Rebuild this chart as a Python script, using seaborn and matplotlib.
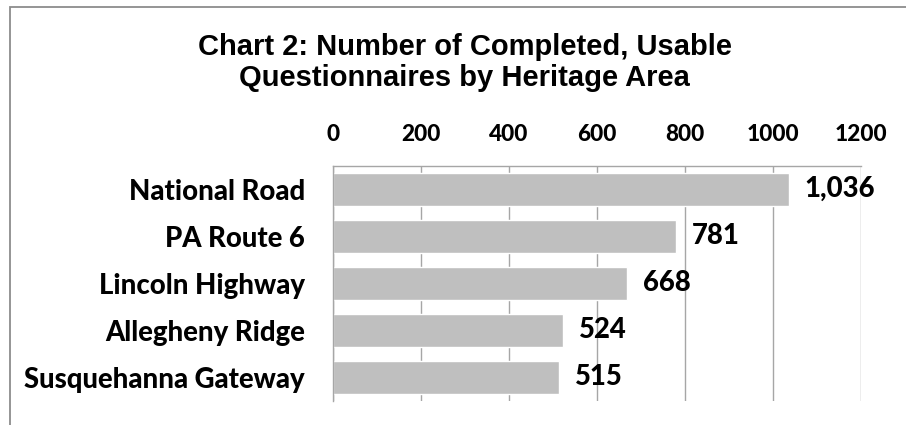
import matplotlib

matplotlib.use("Agg")
import matplotlib.pyplot as plt
import matplotlib.patches as mpatches
import pandas as pd
import seaborn as sns

regions = [
    "National Road",
    "PA Route 6",
    "Lincoln Highway",
    "Allegheny Ridge",
    "Susquehanna Gateway",
]
questionnaires = [1036, 781, 668, 524, 515]
x_ticks = [0, 200, 400, 600, 800, 1000, 1200]

data = pd.DataFrame({"region": regions, "count": questionnaires})

sns.set_style("white")
plt.rcParams["font.family"] = ["Lato", "DejaVu Sans"]
plt.rcParams["text.color"] = "black"
plt.rcParams["xtick.color"] = "black"
plt.rcParams["ytick.color"] = "black"

fig = plt.figure(figsize=(9.06, 4.25), dpi=100)
ax = fig.add_axes([0.3672, 0.0572, 0.5828, 0.5529])

sns.barplot(
    data=data,
    x="count",
    y="region",
    orient="h",
    color="#BFBFBF",
    saturation=1,
    width=0.71,
    ax=ax,
)

ax.set_xlim(0, 1200)
ax.set_xticks(x_ticks)
ax.xaxis.tick_top()
ax.set_xlabel("")
ax.set_ylabel("")
ax.grid(axis="x", color="#A6A6A6", linewidth=1)
ax.set_axisbelow(True)
for side in ["bottom", "right"]:
    ax.spines[side].set_visible(False)
for side in ["top", "left"]:
    ax.spines[side].set_color("#A6A6A6")
    ax.spines[side].set_linewidth(1)

ax.tick_params(axis="x", length=0, pad=15, labelsize=16.3, labelcolor="black")
ax.tick_params(axis="y", length=0, pad=20, labelsize=19.8, labelcolor="black")
for lbl in ax.get_xticklabels() + ax.get_yticklabels():
    lbl.set_fontweight("black")

for i, v in enumerate(questionnaires):
    ax.annotate(
        f"{v:,}",
        xy=(v, i),
        xytext=(11.5, 0),
        textcoords="offset points",
        va="center",
        ha="left",
        fontsize=19.8,
        fontweight="black",
        color="black",
        annotation_clip=False,
    )

fig.text(
    0.513,
    0.853,
    "Chart 2: Number of Completed, Usable\nQuestionnaires by Heritage Area",
    ha="center",
    va="center",
    fontsize=21,
    fontweight="bold",
    family="Liberation Sans",
    color="black",
    linespacing=1.13,
)

# cadre gris autour du graphique (coupé à droite et en bas)
cadre = mpatches.Rectangle(
    (0.0105, -0.2),
    1.2,
    0.9835 + 0.2,
    transform=fig.transFigure,
    fill=False,
    edgecolor="#8C8C8C",
    linewidth=1.3,
    clip_on=False,
)
fig.patches.append(cadre)

fig.savefig("out.png", dpi=100)
